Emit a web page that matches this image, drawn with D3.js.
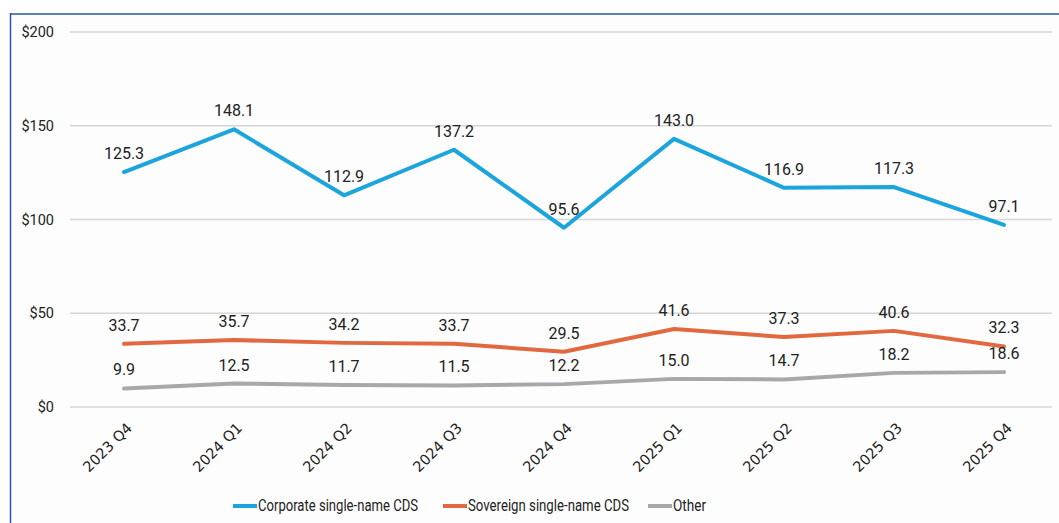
<!DOCTYPE html>
<html>
<head>
<meta charset="utf-8">
<script src="https://cdn.jsdelivr.net/npm/d3@7"></script>
<style>
  body { margin: 0; background: #fff; }
  svg { display: block; font-family: Roboto, "Liberation Sans", sans-serif; }
  .xlab { font-family: "DejaVu Sans", Verdana, sans-serif; }
</style>
</head>
<body>
<div id="chart-container"></div>
<script>
// --- Data ---
const quarters = ["2023 Q4", "2024 Q1", "2024 Q2", "2024 Q3", "2024 Q4", "2025 Q1", "2025 Q2", "2025 Q3", "2025 Q4"];
const corporate = [125.3, 148.1, 112.9, 137.2, 95.6, 143.0, 116.9, 117.3, 97.1];
const sovereign = [33.7, 35.7, 34.2, 33.7, 29.5, 41.6, 37.3, 40.6, 32.3];
const other = [9.9, 12.5, 11.7, 11.5, 12.2, 15.0, 14.7, 18.2, 18.6];
const yTicks = [0, 50, 100, 150, 200];

const series = [
    { name: "Corporate single-name CDS", values: corporate, color: "#1ba5dc" },
    { name: "Sovereign single-name CDS", values: sovereign, color: "#e2693f" },
    { name: "Other", values: other, color: "#a8a8a8" }
];

// --- Configuration ---
const width = 1059;
const height = 523;

const svg = d3.select("#chart-container")
    .append("svg")
    .attr("width", width)
    .attr("height", height);

// frame
svg.append("rect")
    .attr("x", 10.5).attr("y", 13.5)
    .attr("width", width).attr("height", height)
    .attr("fill", "#fdfdfd")
    .attr("stroke", "none");
svg.append("line")
    .attr("x1", 10).attr("x2", width).attr("y1", 14).attr("y2", 14)
    .attr("stroke", "#5f7db8").attr("stroke-width", 2);
svg.append("line")
    .attr("x1", 10.5).attr("x2", 10.5).attr("y1", 13).attr("y2", height)
    .attr("stroke", "#2d52b3").attr("stroke-width", 1.5);

// --- Scales ---
const x = d3.scalePoint()
    .domain(quarters)
    .range([124, 1004]);

const y = d3.scaleLinear()
    .domain([0, 200])
    .range([407, 32]);

// --- Gridlines & y labels ---
const grid = svg.append("g");
grid.selectAll("line")
    .data(yTicks)
    .enter()
    .append("line")
    .attr("x1", 70).attr("x2", 1052)
    .attr("y1", d => y(d)).attr("y2", d => y(d))
    .attr("stroke", "#d6d6d6").attr("stroke-width", 1.5);

grid.selectAll("text")
    .data(yTicks)
    .enter()
    .append("text")
    .attr("x", 54)
    .attr("y", d => y(d) + 5)
    .attr("text-anchor", "end")
    .attr("font-size", "14.5px")
    .attr("fill", "#222")
    .text(d => "$" + d);

// --- X axis labels ---
svg.append("g")
    .selectAll("text")
    .data(quarters)
    .enter()
    .append("text")
    .attr("class", "xlab")
    .attr("transform", d => `translate(${x(d) + 9}, ${y(0) + 22}) rotate(-45)`)
    .attr("text-anchor", "end")
    .style("font-size", "14.5px")
    .attr("fill", "#222")
    .text(d => d);

// --- Lines ---
const line = d3.line()
    .x((d, i) => x(quarters[i]))
    .y(d => y(d));

svg.append("g")
    .selectAll("path")
    .data(series)
    .enter()
    .append("path")
    .attr("d", d => line(d.values))
    .attr("fill", "none")
    .attr("stroke", d => d.color)
    .attr("stroke-width", 4)
    .attr("stroke-linejoin", "round")
    .attr("stroke-linecap", "round");

// --- Data labels ---
series.forEach(s => {
    svg.append("g")
        .selectAll("text")
        .data(s.values)
        .enter()
        .append("text")
        .attr("x", (d, i) => x(quarters[i]))
        .attr("y", d => y(d) - 13)
        .attr("text-anchor", "middle")
        .attr("font-size", "16px")
        .attr("fill", "#222")
        .text(d => d.toFixed(1));
});

// --- Legend ---
const legendItems = [
    { x: 233, w: 160, s: series[0] },
    { x: 443, w: 161, s: series[1] },
    { x: 648, w: 33, s: series[2] }
];
const legend = svg.append("g");
legendItems.forEach(item => {
    legend.append("line")
        .attr("x1", item.x).attr("x2", item.x + 24)
        .attr("y1", 506).attr("y2", 506)
        .attr("stroke", item.s.color).attr("stroke-width", 4);
    legend.append("text")
        .attr("x", item.x + 25)
        .attr("y", 511)
        .attr("font-size", "16px")
        .attr("textLength", item.w)
        .attr("lengthAdjust", "spacingAndGlyphs")
        .attr("fill", "#222")
        .text(item.s.name);
});
</script>
</body>
</html>
